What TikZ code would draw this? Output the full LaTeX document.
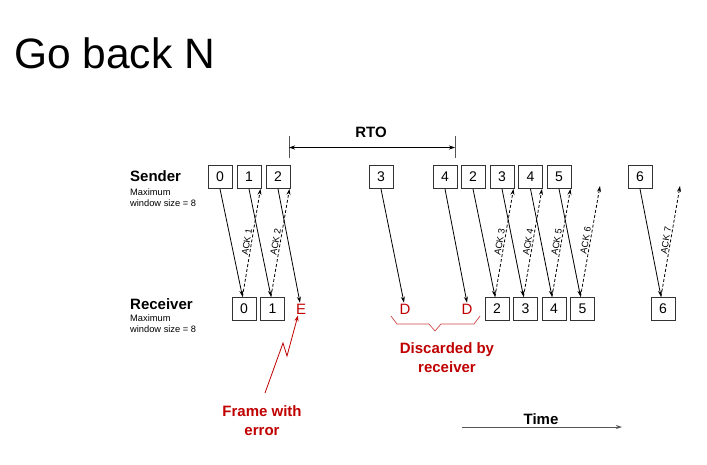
\documentclass[tikz,border=0pt]{standalone}
\usepackage{fontspec}
\setmainfont{Liberation Sans}
\usetikzlibrary{arrows.meta}
\definecolor{errred}{HTML}{C00000}
\definecolor{bracered}{HTML}{D04848}
\definecolor{boxgray}{HTML}{333333}
\definecolor{linegray}{HTML}{555555}
\begin{document}
\begin{tikzpicture}[x=1pt,y=-1pt,
  frm/.style={draw=boxgray, line width=0.9pt, minimum width=24pt, minimum height=23pt, inner sep=0pt, font=\fontsize{14}{16}\selectfont},
  errtext/.style={text=errred, font=\fontsize{15}{17}\selectfont, inner sep=1pt},
  datarrow/.style={-{Stealth[length=6pt,width=4pt]}, line width=0.8pt, black},
  ackarrow/.style={-{Stealth[length=6pt,width=4pt]}, dash pattern=on 3pt off 2pt, line width=0.8pt, black},
  acklbl/.style={midway, sloped, above, inner sep=1pt, font=\fontsize{9.3}{11}\selectfont},
  smalltext/.style={font=\fontsize{9.3}{11}\selectfont, align=left, inner sep=0pt, anchor=north west},
  boldlbl/.style={font=\fontsize{15}{18}\selectfont\bfseries, inner sep=0pt},
  errlbl/.style={font=\fontsize{15}{19}\selectfont\bfseries, text=errred, align=center, inner sep=0pt, anchor=north}
]
\useasboundingbox (0,0) rectangle (707,464);

% title
\node[anchor=base west, inner sep=0pt, font=\fontsize{42.5}{48}\selectfont] (title) at (14,68) {Go back N};

% side labels
\node[boldlbl, anchor=base west] (sendlbl) at (130,181) {Sender};
\node[smalltext] (sendmax) at (130,188.5) {Maximum\\window size = 8};
\node[boldlbl, anchor=base west] (recvlbl) at (130,309) {Receiver};
\node[smalltext] (recvmax) at (130,314.5) {Maximum\\window size = 8};

% sender frames
\node[frm] (s0) at (220,177) {0};
\node[frm] (s1) at (249,177) {1};
\node[frm] (s2) at (278,177) {2};
\node[frm] (s3) at (381,177) {3};
\node[frm] (s4) at (445,177) {4};
\node[frm] (s2b) at (473,177) {2};
\node[frm] (s3b) at (502,177) {3};
\node[frm] (s4b) at (530.5,177) {4};
\node[frm] (s5b) at (559,177) {5};
\node[frm] (s6) at (640,177) {6};
\coordinate (ack6end) at (600,186);
\coordinate (ack7end) at (680,186);

% receiver frames
\node[frm] (r0) at (244,308.5) {0};
\node[frm] (r1) at (272.5,308.5) {1};
\node[errtext] (rE) at (301,309) {E};
\node[errtext] (rD1) at (405,309) {D};
\node[errtext] (rD2) at (467,309) {D};
\node[frm] (r2) at (497,308.5) {2};
\node[frm] (r3) at (525.5,308.5) {3};
\node[frm] (r4) at (554,308.5) {4};
\node[frm] (r5) at (582.5,308.5) {5};
\node[frm] (r6) at (663,308.5) {6};

% data frames
\draw[datarrow] (s0.south) -- ([xshift=-1.5pt]r0.north);
\draw[datarrow] (s1.south) -- ([xshift=-1.5pt]r1.north);
\draw[datarrow] (s2.south) -- ([xshift=-1pt]rE.north);
\draw[datarrow] (s3.south) -- ([xshift=-1pt]rD1.north);
\draw[datarrow] (s4.south) -- (rD2.north);
\draw[datarrow] (s2b.south) -- ([xshift=-2pt]r2.north);
\draw[datarrow] (s3b.south) -- ([xshift=-2pt]r3.north);
\draw[datarrow] (s4b.south) -- ([xshift=-2pt]r4.north);
\draw[datarrow] (s5b.south) -- ([xshift=-2pt]r5.north);
\draw[datarrow] (s6.south) -- ([xshift=-2pt]r6.north);

% acks
\draw[ackarrow] ([xshift=-1.5pt]r0.north) -- ([xshift=-1pt]s1.south east) node[acklbl] {ACK 1};
\draw[ackarrow] ([xshift=-1.5pt]r1.north) -- ([xshift=-1pt]s2.south east) node[acklbl] {ACK 2};
\draw[ackarrow] ([xshift=-2pt]r2.north) -- ([xshift=-1pt]s3b.south east) node[acklbl] {ACK 3};
\draw[ackarrow] ([xshift=-2pt]r3.north) -- ([xshift=-1pt]s4b.south east) node[acklbl] {ACK 4};
\draw[ackarrow] ([xshift=-2pt]r4.north) -- ([xshift=-1pt]s5b.south east) node[acklbl] {ACK 5};
\draw[ackarrow] ([xshift=-2pt]r5.north) -- (ack6end) node[acklbl] {ACK 6};
\draw[ackarrow] ([xshift=-2pt]r6.north) -- (ack7end) node[acklbl] {ACK 7};

% RTO
\coordinate (rtoLt) at (289,136);
\coordinate (rtoLb) at (289,158);
\coordinate (rtoRt) at (455,136);
\coordinate (rtoRb) at (455,158);
\coordinate (rtoL) at (289,147.5);
\coordinate (rtoR) at (455,147.5);
\draw[linegray, line width=1pt] (rtoLt) -- (rtoLb);
\draw[linegray, line width=1pt] (rtoRt) -- (rtoRb);
\draw[{Stealth[length=6pt,width=4pt]}-{Stealth[length=6pt,width=4pt]}, line width=0.8pt] (rtoL) -- (rtoR);
\node[boldlbl, anchor=base] (rto) at (371,137) {RTO};

% discarded brace
\coordinate (b1) at (391,316);
\coordinate (b2) at (397,324);
\coordinate (b3) at (429,324);
\coordinate (b4) at (435,331);
\coordinate (b5) at (441,324);
\coordinate (b6) at (474,324);
\coordinate (b7) at (480,316);
\draw[bracered, line width=0.7pt] (b1) -- (b2) -- (b3) -- (b4) -- (b5) -- (b6) -- (b7);
\node[errlbl] (disc) at (447,342) {Discarded by\\receiver};

% frame with error
\node[errlbl] (ferr) at (262,405) {Frame with\\error};
\coordinate (z1) at (265,393);
\coordinate (z2) at (283,343);
\coordinate (z3) at (287,356);
\draw[errred, line width=0.8pt, -{Stealth[length=6pt,width=4pt]}] (z1) -- (z2) -- (z3) -- ([xshift=-3pt]rE.south);

% time axis
\coordinate (t0) at (462,427);
\coordinate (t1) at (622,427);
\draw[linegray, line width=1pt, -{Stealth[length=6pt,width=4pt]}] (t0) -- (t1);
\node[boldlbl, anchor=base] (time) at (541,424) {Time};
\end{tikzpicture}
\end{document}
